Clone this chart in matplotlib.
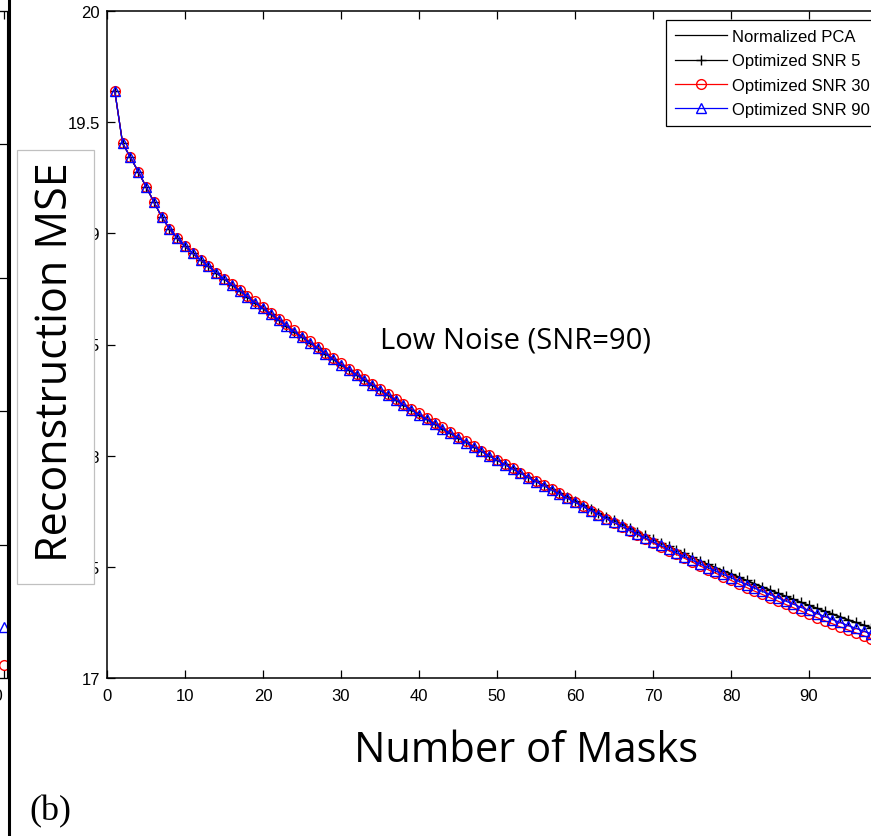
import matplotlib
matplotlib.use('Agg')
import matplotlib.pyplot as plt
from matplotlib.patches import Rectangle
from matplotlib.lines import Line2D

# panel (b) data (x = number of masks)
masks = list(range(1, 101))

pca = [19.640, 19.405, 19.342, 19.278, 19.210, 19.142, 19.075, 19.020, 18.978, 18.942,
       18.910, 18.880, 18.851, 18.823, 18.795, 18.768, 18.741, 18.714, 18.688, 18.662,
       18.636, 18.610, 18.584, 18.558, 18.533, 18.508, 18.483, 18.458, 18.433, 18.409,
       18.386, 18.363, 18.340, 18.317, 18.294, 18.272, 18.250, 18.228, 18.206, 18.184,
       18.163, 18.142, 18.121, 18.100, 18.080, 18.060, 18.040, 18.020, 18.000, 17.981,
       17.962, 17.943, 17.924, 17.905, 17.887, 17.869, 17.851, 17.833, 17.815, 17.797,
       17.779, 17.761, 17.743, 17.726, 17.709, 17.692, 17.675, 17.658, 17.641, 17.624,
       17.608, 17.592, 17.576, 17.560, 17.544, 17.528, 17.512, 17.497, 17.482, 17.467,
       17.452, 17.437, 17.422, 17.408, 17.394, 17.380, 17.366, 17.352, 17.338, 17.325,
       17.312, 17.299, 17.286, 17.273, 17.260, 17.248, 17.236, 17.224, 17.212, 17.200]

snr5 = [19.640, 19.405, 19.342, 19.278, 19.210, 19.142, 19.075, 19.020, 18.978, 18.942,
        18.910, 18.880, 18.851, 18.823, 18.795, 18.768, 18.741, 18.714, 18.688, 18.662,
        18.636, 18.610, 18.584, 18.558, 18.533, 18.508, 18.483, 18.458, 18.433, 18.409,
        18.386, 18.363, 18.340, 18.317, 18.294, 18.272, 18.250, 18.228, 18.206, 18.184,
        18.163, 18.142, 18.121, 18.100, 18.080, 18.060, 18.040, 18.020, 18.000, 17.981,
        17.962, 17.943, 17.924, 17.905, 17.887, 17.869, 17.851, 17.833, 17.815, 17.797,
        17.779, 17.761, 17.743, 17.726, 17.709, 17.692, 17.675, 17.658, 17.641, 17.624,
        17.608, 17.592, 17.576, 17.560, 17.544, 17.528, 17.512, 17.497, 17.482, 17.470,
        17.455, 17.440, 17.425, 17.411, 17.397, 17.383, 17.369, 17.355, 17.341, 17.328,
        17.315, 17.302, 17.289, 17.276, 17.263, 17.251, 17.239, 17.227, 17.215, 17.203]

snr30 = [19.640, 19.405, 19.342, 19.278, 19.210, 19.142, 19.075, 19.020, 18.978, 18.942,
         18.910, 18.880, 18.851, 18.823, 18.795, 18.774, 18.747, 18.720, 18.694, 18.668,
         18.642, 18.616, 18.590, 18.564, 18.539, 18.514, 18.489, 18.464, 18.439, 18.415,
         18.392, 18.369, 18.346, 18.323, 18.300, 18.278, 18.256, 18.234, 18.212, 18.190,
         18.169, 18.148, 18.127, 18.106, 18.086, 18.065, 18.044, 18.023, 18.002, 17.982,
         17.962, 17.943, 17.924, 17.905, 17.887, 17.868, 17.849, 17.830, 17.811, 17.791,
         17.772, 17.753, 17.734, 17.716, 17.698, 17.680, 17.662, 17.644, 17.626, 17.607,
         17.590, 17.573, 17.556, 17.539, 17.522, 17.505, 17.488, 17.472, 17.456, 17.439,
         17.423, 17.407, 17.391, 17.376, 17.361, 17.346, 17.331, 17.316, 17.301, 17.286,
         17.272, 17.258, 17.244, 17.230, 17.216, 17.203, 17.190, 17.177, 17.164, 17.150]

snr90 = [19.640, 19.405, 19.342, 19.278, 19.210, 19.142, 19.075, 19.020, 18.978, 18.942,
         18.910, 18.880, 18.851, 18.823, 18.795, 18.768, 18.741, 18.714, 18.688, 18.662,
         18.636, 18.610, 18.584, 18.558, 18.533, 18.508, 18.483, 18.458, 18.433, 18.409,
         18.386, 18.363, 18.340, 18.317, 18.294, 18.272, 18.250, 18.228, 18.206, 18.184,
         18.163, 18.142, 18.121, 18.100, 18.080, 18.059, 18.039, 18.019, 17.998, 17.979,
         17.959, 17.940, 17.920, 17.901, 17.882, 17.864, 17.845, 17.827, 17.808, 17.790,
         17.771, 17.753, 17.735, 17.717, 17.700, 17.682, 17.665, 17.647, 17.630, 17.612,
         17.596, 17.579, 17.563, 17.546, 17.530, 17.513, 17.497, 17.481, 17.466, 17.451,
         17.435, 17.420, 17.404, 17.390, 17.375, 17.361, 17.346, 17.332, 17.317, 17.304,
         17.290, 17.277, 17.263, 17.250, 17.236, 17.224, 17.211, 17.199, 17.187, 17.174]

labels = ['Normalized PCA', 'Optimized SNR 5', 'Optimized SNR 30', 'Optimized SNR 90']
xticks_b = [0, 10, 20, 30, 40, 50, 60, 70, 80, 90, 100]
yticks_b = [17, 17.5, 18, 18.5, 19, 19.5, 20]
yticklabels_b = ['17', '17.5', '18', '18.5', '19', '19.5', '20']

# the last points of panel (a), only a sliver of it shows at the left edge
a_x = [100]
a_snr30 = [15.10]
a_snr90 = [15.38]

W, H = 871, 837
plt.rcParams['font.family'] = 'Liberation Sans'
plt.rcParams['font.size'] = 12
fig = plt.figure(figsize=(W / 100, H / 100), dpi=100)

# ---- panel (b) ----
ax = fig.add_axes([107 / W, 1 - 679 / H, 780 / W, 667 / H])
ax.plot(masks, pca, color='black', lw=0.9, label=labels[0])
ax.plot(masks, snr5, color='black', lw=0.9, marker='+', ms=7, mew=1.0, label=labels[1])
ax.plot(masks, snr30, color='red', lw=0.9, marker='o', ms=7, mew=1.0, mfc='none', label=labels[2])
ax.plot(masks, snr90, color='blue', lw=0.9, marker='^', ms=7, mew=1.0, mfc='none', label=labels[3])

ax.set_xlim(0, 100)
ax.set_ylim(17, 20)
ax.set_xticks(xticks_b)
ax.set_yticks(yticks_b)
ax.set_yticklabels(yticklabels_b)
ax.tick_params(direction='in', length=6, width=0.9, top=True, right=True, labelsize=12)
ax.tick_params(axis='x', pad=7)
ax.tick_params(axis='y', pad=5)
for s in ax.spines.values():
    s.set_linewidth(1.1)

leg = ax.legend(loc='upper left', bbox_to_anchor=((666 - 107) / 780, (679 - 21) / 667),
                borderaxespad=0, fontsize=12, handlelength=3.1, handletextpad=0.3,
                borderpad=0.55, labelspacing=0.55, numpoints=1, fancybox=False,
                framealpha=1, edgecolor='black')
leg.get_frame().set_linewidth(0.9)

# ---- sliver of panel (a) ----
axa = fig.add_axes([-500 / W, 1 - 679 / H, 506.5 / W, 667 / H])
axa.plot(a_x, a_snr30, color='red', lw=0.9, marker='o', ms=7, mew=1.0, mfc='none', clip_on=False)
axa.plot(a_x, a_snr90, color='blue', lw=0.9, marker='^', ms=7, mew=1.0, mfc='none', clip_on=False)
axa.set_xlim(0, 100.5)
axa.set_ylim(15, 20)
axa.set_xticks([100])
axa.set_xticklabels(['100'])
for lab in axa.get_xticklabels():
    lab.set_ha('right')
axa.set_yticks([15, 16, 17, 18, 19, 20])
axa.set_yticklabels([])
axa.tick_params(direction='in', length=6, width=0.9, top=True, right=True, labelsize=12, pad=7)

fig.add_artist(Line2D([9 / W, 9 / W], [0, 1], transform=fig.transFigure, color='black', lw=2.2))

# boxed y label (drawn on top of the tick labels, as in the source)
fig.add_artist(Rectangle((17 / W, 1 - 585 / H), 77 / W, 434 / H, transform=fig.transFigure,
                         facecolor='white', edgecolor='#c0c0c0', lw=0.9, zorder=2))
fig.text(56 / W, 1 - 362 / H, 'Reconstruction MSE', rotation=90, ha='center', va='center',
         family='Open Sans', fontsize=31, zorder=3)

fig.text(526 / W, 1 - 762 / H, 'Number of Masks', ha='center', va='baseline',
         family='Open Sans', fontsize=30)
fig.text(380 / W, 1 - 349 / H, 'Low Noise (SNR=90)', ha='left', va='baseline',
         family='Open Sans', fontsize=21)
fig.text(29 / W, 1 - 820 / H, '(b)', ha='left', va='baseline',
         family='Liberation Serif', fontsize=26)

fig.savefig('out.png', dpi=100)
